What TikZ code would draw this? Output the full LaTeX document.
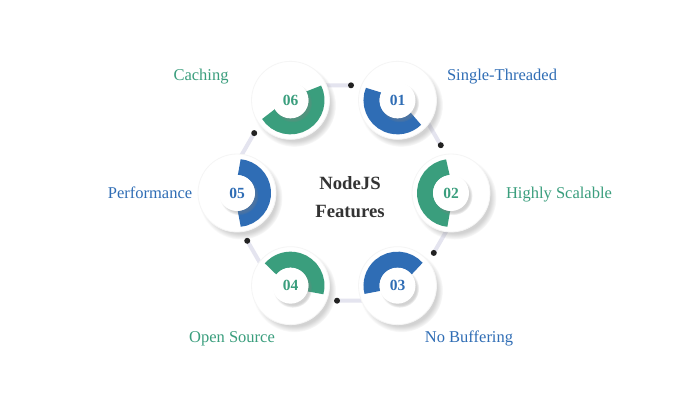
\documentclass[tikz,border=0pt]{standalone}
\usepackage{fontspec}
\setmainfont{Liberation Serif}
\usetikzlibrary{calc,shadows}
\definecolor{cblue}{HTML}{2F6DB5}
\definecolor{cgreen}{HTML}{3A9E7D}
\definecolor{ctext}{HTML}{333333}
\definecolor{cline}{HTML}{E4E4EF}
\definecolor{cdot}{HTML}{222222}
\begin{document}
\begin{tikzpicture}[x=1pt,y=1pt,
  outerdisk/.style={circle, fill=white, minimum size=78pt, inner sep=0pt, draw=black!4, line width=0.8pt,
    circular drop shadow={shadow xshift=3.5pt, shadow yshift=-4.5pt, shadow scale=1.07, opacity=0.35}},
  innerdisk/.style={circle, fill=white, minimum size=36pt, inner sep=0pt,
    circular drop shadow={shadow xshift=2pt, shadow yshift=-2.5pt, shadow scale=1.08, opacity=0.35},
    font=\fontsize{15.5}{18}\selectfont\bfseries},
  link/.style={line width=4pt, cline},
  dotnode/.style={circle, fill=cdot, minimum size=6pt, inner sep=0pt},
  lbl/.style={font=\fontsize{16.5}{20}\selectfont, anchor=base},
  ring/.style={line width=16pt}]
\useasboundingbox (0,0) rectangle (700,400);
\fill[white] (0,0) rectangle (700,400);
\coordinate (O) at (344,207);
\foreach \n/\a in {01/60,02/0,03/-60,04/-120,05/180,06/120}
  \coordinate (c\n) at ($(O)+(\a:107)$);
% dot positions
\coordinate (p12) at ($(O)+(30:107.7)+(-60:7)$);
\coordinate (p23) at ($(O)+(-30:107.7)+(-120:7)$);
\coordinate (p34) at ($(O)+(-90:107.7)+(180:7)$);
\coordinate (p45) at ($(O)+(-150:107.7)+(120:7)$);
\coordinate (p56) at ($(O)+(150:107.7)+(60:7)$);
\coordinate (p61) at ($(O)+(90:107.7)+(0:7)$);
% connectors
\draw[link] ($(c01)+(30:15)$) -- (p12);
\draw[link] ($(c02)+(-30:15)$) -- (p23);
\draw[link] ($(c03)+(-90:15)$) -- (p34);
\draw[link] ($(c04)+(-150:15)$) -- (p45);
\draw[link] ($(c05)+(150:15)$) -- (p56);
\draw[link] ($(c06)+(90:15)$) -- (p61);
\foreach \p in {12,23,34,45,56,61} \node[dotnode] (d\p) at (p\p) {};
% disks
\foreach \n in {01,02,03,04,05,06} \node[outerdisk] (n\n) at (c\n) {};
% rings
\draw[ring, cblue]  ($(n01.center)+(157:26)$) arc[start angle=157, end angle=315, radius=26];
\draw[ring, cgreen] ($(n02.center)+(97:26)$)  arc[start angle=97,  end angle=265, radius=26];
\draw[ring, cblue]  ($(n03.center)+(41:26)$)  arc[start angle=41,  end angle=195, radius=26];
\draw[ring, cgreen] ($(n04.center)+(-16:26)$) arc[start angle=-16, end angle=140, radius=26];
\draw[ring, cblue]  ($(n05.center)+(-85:26)$) arc[start angle=-85, end angle=85,  radius=26];
\draw[ring, cgreen] ($(n06.center)+(212:26)$) arc[start angle=212, end angle=387, radius=26];
% inner disks
\node[innerdisk, text=cblue]  (i01) at (n01.center) {01};
\node[innerdisk, text=cgreen] (i02) at (n02.center) {02};
\node[innerdisk, text=cblue]  (i03) at (n03.center) {03};
\node[innerdisk, text=cgreen] (i04) at (n04.center) {04};
\node[innerdisk, text=cblue]  (i05) at (n05.center) {05};
\node[innerdisk, text=cgreen] (i06) at (n06.center) {06};
% center title
\node[font=\fontsize{18.7}{28}\selectfont\bfseries, text=ctext, align=center] (title) at (350,203) {NodeJS\\Features};
% labels
\node[lbl, text=cgreen] (l06) at (201,319.5) {Caching};
\node[lbl, text=cblue]  (l01) at (502,319.5) {Single-Threaded};
\node[lbl, text=cgreen] (l02) at (559,201.5) {Highly Scalable};
\node[lbl, text=cblue]  (l05) at (150,201.5) {Performance};
\node[lbl, text=cgreen] (l04) at (232,57.5) {Open Source};
\node[lbl, text=cblue]  (l03) at (469,57.5) {No Buffering};
\end{tikzpicture}
\end{document}
